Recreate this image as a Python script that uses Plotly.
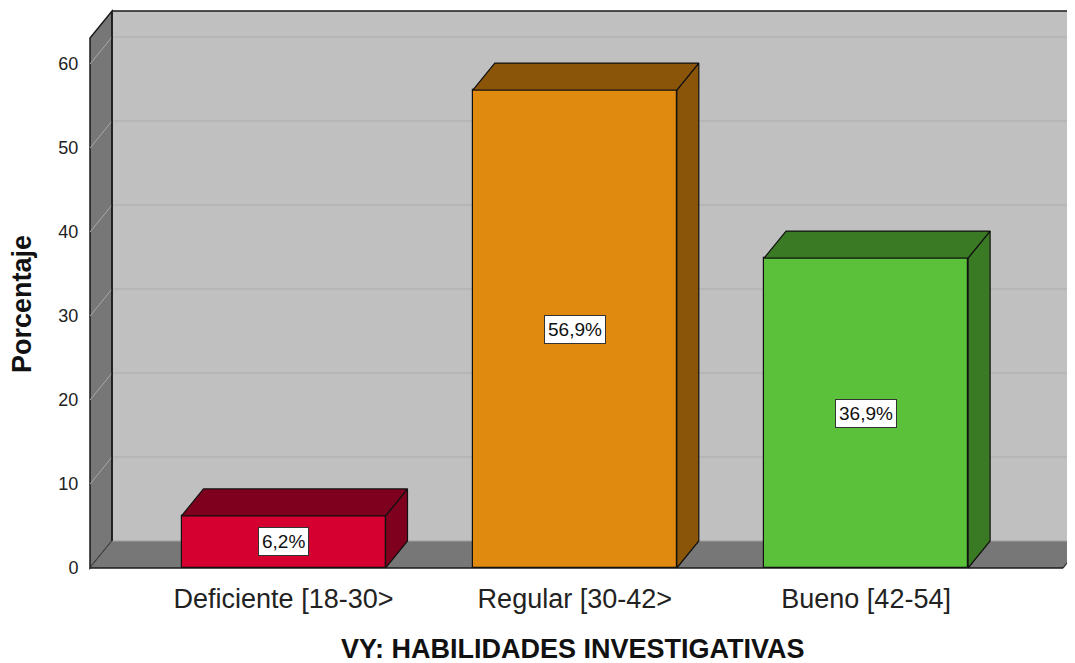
import plotly.graph_objects as go

# ---------------- data ----------------
categories = ["Deficiente [18-30>", "Regular [30-42>", "Bueno [42-54]"]
percentages = [6.2, 56.9, 36.9]
value_labels = ["6,2%", "56,9%", "36,9%"]
y_ticks = [0, 10, 20, 30, 40, 50, 60]
x_title = "VY: HABILIDADES INVESTIGATIVAS"
y_title = "Porcentaje"

front_colors = ["#D5002F", "#E08A10", "#5CC13A"]
dark_colors = ["#7E001E", "#8A5508", "#3B7A24"]

# ---------------- geometry (page pixels -> figure pixels -> data units) ----------------
OFF = 8  # default page body margin
W, H = 1075 - OFF, 663 - OFF
plot_l, plot_r, plot_t, plot_b = 86 - OFF, 1075 - OFF, 8 - OFF, 572 - OFF
px_per_cat = 291.3
px_per_unit = 8.4
first_cat_px = 283.5 - OFF
zero_px = 568 - OFF

def xd(px):
    return (px - OFF - first_cat_px) / px_per_cat

def yd(py):
    return (zero_px - (py - OFF)) / px_per_unit

x_range = [xd(plot_l + OFF), xd(plot_r + OFF)]
y_range = [yd(plot_b + OFF), yd(plot_t + OFF)]
dx = 22 / px_per_cat
dy = 27 / px_per_unit
bar_w = 204 / px_per_cat
wall_x = xd(90)
floor_end = xd(1063)
top_back = yd(11)
x_far = x_range[1] + 0.2

x_pos = list(range(len(categories)))

shapes = []
# back wall
shapes.append(dict(type="rect", xref="x", yref="y", x0=wall_x + dx, x1=x_far,
                   y0=dy, y1=top_back, fillcolor="#C0C0C0", line=dict(width=0), layer="below"))
# back wall grid lines
for v in y_ticks[1:]:
    shapes.append(dict(type="line", xref="x", yref="y", x0=wall_x + dx, x1=x_far,
                       y0=v + dy, y1=v + dy, line=dict(color="#ADADAD", width=1), layer="below"))
# left wall
shapes.append(dict(type="path", xref="x", yref="y",
                   path=f"M {wall_x},{0} L {wall_x+dx},{dy} L {wall_x+dx},{top_back} L {wall_x},{top_back-dy} Z",
                   fillcolor="#777777", line=dict(color="#1A1A1A", width=1.5), layer="below"))
for v in y_ticks[1:]:
    shapes.append(dict(type="line", xref="x", yref="y", x0=wall_x, x1=wall_x + dx,
                       y0=v, y1=v + dy, line=dict(color="#A8A8A8", width=1), layer="below"))
# floor
shapes.append(dict(type="path", xref="x", yref="y",
                   path=f"M {wall_x},{0} L {floor_end},{0} L {floor_end+dx},{dy} L {wall_x+dx},{dy} Z",
                   fillcolor="#777777", line=dict(width=0), layer="below"))
shapes.append(dict(type="line", xref="x", yref="y", x0=wall_x + dx, x1=x_far,
                   y0=dy, y1=dy, line=dict(color="#A0A0A0", width=1), layer="below"))
shapes.append(dict(type="line", xref="x", yref="y", x0=floor_end, x1=floor_end + dx,
                   y0=0, y1=dy, line=dict(color="#333333", width=1.2), layer="below"))
# back wall borders
shapes.append(dict(type="line", xref="x", yref="y", x0=wall_x + dx, x1=x_far,
                   y0=top_back, y1=top_back, line=dict(color="#1A1A1A", width=1.5), layer="below"))
shapes.append(dict(type="line", xref="x", yref="y", x0=wall_x + dx, x1=wall_x + dx,
                   y0=dy, y1=top_back, line=dict(color="#1A1A1A", width=1.5), layer="below"))
shapes.append(dict(type="line", xref="x", yref="y", x0=wall_x, x1=wall_x + dx,
                   y0=0, y1=dy, line=dict(color="#555555", width=1), layer="below"))
# front floor edge (axis line)
shapes.append(dict(type="line", xref="x", yref="y", x0=wall_x, x1=floor_end,
                   y0=0, y1=0, line=dict(color="#1A1A1A", width=1.5), layer="below"))

fig = go.Figure()

# front faces
fig.add_trace(go.Bar(x=x_pos, y=percentages, width=bar_w, base=0,
                     marker=dict(color=front_colors, line=dict(color="#111111", width=1.2)),
                     hoverinfo="skip", showlegend=False))

# top and side faces
for c, v, col in zip(x_pos, percentages, dark_colors):
    l, r = c - bar_w / 2, c + bar_w / 2
    fig.add_trace(go.Scatter(x=[r, r + dx, r + dx, r, r], y=[0, dy, v + dy, v, 0],
                             fill="toself", fillcolor=col, mode="lines",
                             line=dict(color="#111111", width=1.2), hoverinfo="skip", showlegend=False))
    fig.add_trace(go.Scatter(x=[l, l + dx, r + dx, r, l], y=[v, v + dy, v + dy, v, v],
                             fill="toself", fillcolor=col, mode="lines",
                             line=dict(color="#111111", width=1.2), hoverinfo="skip", showlegend=False))

annotations = []
for c, v, t in zip(x_pos, percentages, value_labels):
    annotations.append(dict(x=c, y=v / 2, xref="x", yref="y", text=t, showarrow=False,
                            bgcolor="white", bordercolor="#333333", borderwidth=1, borderpad=3,
                            font=dict(size=19, color="#111111")))

pw = plot_r - plot_l
ph = plot_b - plot_t
annotations.append(dict(xref="paper", yref="paper", x=(573 - OFF - plot_l) / pw, y=(plot_b - (649 - OFF)) / ph,
                        text=f"<b>{x_title}</b>", showarrow=False, xanchor="center", yanchor="middle",
                        font=dict(size=27, color="#111111")))
annotations.append(dict(xref="paper", yref="paper", x=(22 - OFF - plot_l) / pw, y=(plot_b - (304 - OFF)) / ph,
                        text=f"<b>{y_title}</b>", showarrow=False, textangle=-90,
                        xanchor="center", yanchor="middle",
                        font=dict(size=27, color="#111111")))

fig.update_layout(
    width=W, height=H, autosize=False,
    margin=dict(l=plot_l, r=W - plot_r, t=plot_t, b=H - plot_b, pad=0),
    paper_bgcolor="white", plot_bgcolor="white",
    font=dict(family="Liberation Sans, Arial, sans-serif", color="#222222"),
    shapes=shapes, annotations=annotations, bargap=0,
    xaxis=dict(range=x_range, tickvals=x_pos, ticktext=categories, showgrid=False, zeroline=False,
               showline=False, ticks="outside", ticklen=3, tickcolor="rgba(0,0,0,0)",
               tickfont=dict(size=27, color="#222222"), fixedrange=True),
    yaxis=dict(range=y_range, tickvals=y_ticks, showgrid=False, zeroline=False, showline=False,
               ticks="outside", ticklen=3, tickcolor="rgba(0,0,0,0)",
               tickfont=dict(size=18, color="#222222"), fixedrange=True),
)

fig.write_html("out.html")
